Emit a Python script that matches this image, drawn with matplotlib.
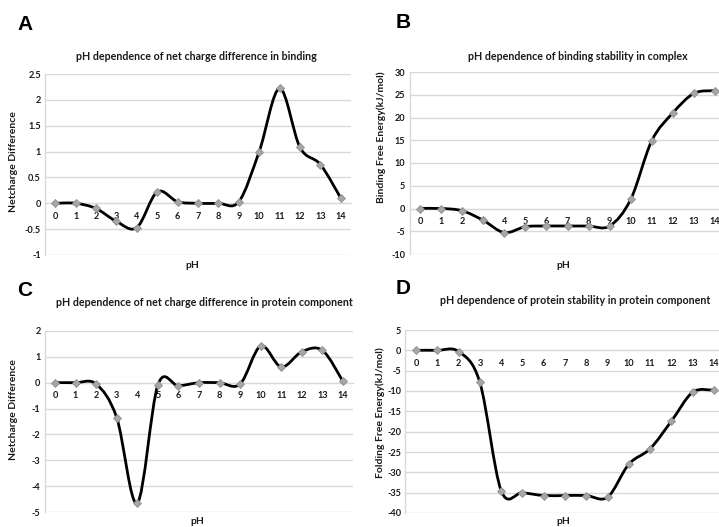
import numpy as np
import matplotlib
matplotlib.use("Agg")
import matplotlib.pyplot as plt
from matplotlib.path import Path
from matplotlib.patches import PathPatch

plt.rcParams['font.family'] = ['Lato', 'DejaVu Sans']

ph = list(range(15))
ph_labels = [str(v) for v in ph]

netcharge_binding = [0, 0, -0.1, -0.35, -0.47, 0.22, 0.03, 0, 0, 0.03, 1.0, 2.22, 1.08, 0.75, 0.1]
binding_energy = [0, 0, -0.5, -2.6, -5.3, -4.0, -3.85, -3.85, -3.85, -3.85, 2.0, 14.9, 21.0, 25.3, 25.9]
netcharge_protein = [0, 0, -0.05, -1.35, -4.65, -0.09, -0.12, 0, 0, -0.05, 1.42, 0.61, 1.2, 1.25, 0.05]
folding_energy = [0, 0, -0.3, -7.9, -34.5, -35.0, -35.7, -35.7, -35.7, -36.1, -28.0, -24.2, -17.4, -10.3, -9.8]

yticks_a = [-1, -0.5, 0, 0.5, 1, 1.5, 2, 2.5]
ylabels_a = ['-1', '-0.5', '0', '0.5', '1', '1.5', '2', '2.5']
yticks_b = [-10, -5, 0, 5, 10, 15, 20, 25, 30]
ylabels_b = [str(v) for v in yticks_b]
yticks_c = [-5, -4, -3, -2, -1, 0, 1, 2]
ylabels_c = [str(v) for v in yticks_c]
yticks_d = [-40, -35, -30, -25, -20, -15, -10, -5, 0, 5]
ylabels_d = [str(v) for v in yticks_d]

titles = ['pH dependence of net charge difference in binding',
          'pH dependence of binding stability in complex',
          'pH dependence of net charge difference in protein component',
          'pH dependence of protein stability in protein component']
ylabels = ['Netcharge Difference', 'Binding Free Energy(kJ/mol)',
           'Netcharge Difference', 'Folding Free Energy(kJ/mol)']
letters = ['A', 'B', 'C', 'D']

W, H = 719, 527
fig = plt.figure(figsize=(W / 100, H / 100), dpi=100)

GRID = '#d9d9d9'
TXT = '#1a1a1a'


def smooth_path(x, y):
    pts = np.column_stack([x, y]).astype(float)
    n = len(pts)
    verts = [pts[0]]
    codes = [Path.MOVETO]
    for i in range(n - 1):
        p0 = pts[max(i - 1, 0)]
        p1 = pts[i]
        p2 = pts[i + 1]
        p3 = pts[min(i + 2, n - 1)]
        c1 = p1 + (p2 - p0) / 6.0
        c2 = p2 - (p3 - p1) / 6.0
        verts += [c1, c2, p2]
        codes += [Path.CURVE4] * 3
    return Path(np.array(verts), codes)


def px_axes(left, right, top, bottom):
    return fig.add_axes([left / W, 1 - bottom / H, (right - left) / W, (bottom - top) / H])


panels = [
    dict(box=(45, 351, 74, 255), y=netcharge_binding, yt=yticks_a, yl=ylabels_a,
         title_xy=(196, 57), letter_xy=(25, 25), ph_xy=(192, 266), ylab_xy=(13, 162)),
    dict(box=(409.5, 725.5, 72, 254), y=binding_energy, yt=yticks_b, yl=ylabels_b,
         title_xy=(578, 57), letter_xy=(403, 23), ph_xy=(563, 266), ylab_xy=(381, 137)),
    dict(box=(44.7, 353.3, 331, 512), y=netcharge_protein, yt=yticks_c, yl=ylabels_c,
         title_xy=(204, 302), letter_xy=(25, 290), ph_xy=(197, 522), ylab_xy=(13, 410)),
    dict(box=(405.4, 724.6, 330, 513), y=folding_energy, yt=yticks_d, yl=ylabels_d,
         title_xy=(575, 301), letter_xy=(403, 288), ph_xy=(563, 522), ylab_xy=(380, 413)),
]

for i, p in enumerate(panels):
    l, r, t, b = p['box']
    ax = px_axes(l, r, t, b)
    for s in ['top', 'right']:
        ax.spines[s].set_visible(False)
    ax.spines['bottom'].set_position(('data', 0))
    ax.spines['bottom'].set_color(GRID)
    ax.spines['left'].set_color(GRID)
    ax.spines['left'].set_linewidth(1.0)
    ax.set_xlim(-0.5, 14.5)
    ax.set_ylim(p['yt'][0], p['yt'][-1])
    ax.set_yticks(p['yt'])
    ax.set_yticklabels(p['yl'])
    ax.set_xticks(ph)
    ax.set_xticklabels(ph_labels)
    ax.tick_params(axis='both', length=0, labelsize=6.6, labelcolor=TXT)
    ax.tick_params(axis='y', pad=3)
    ax.tick_params(axis='x', pad=6)
    for lab in ax.get_xticklabels() + ax.get_yticklabels():
        lab.set_fontweight('bold')
    ax.grid(axis='y', color=GRID, linewidth=1.0)
    ax.set_axisbelow(True)
    ax.patch.set_alpha(0)

    path = smooth_path(ph, p['y'])
    ax.add_patch(PathPatch(path, facecolor='none', edgecolor='black', linewidth=2.0,
                           zorder=3, capstyle='round', joinstyle='round'))
    ax.plot(ph, p['y'], linestyle='none', marker='D', markersize=4.0,
            markerfacecolor='#a6a6a6', markeredgecolor='#8f8f8f', markeredgewidth=0.6,
            zorder=4, clip_on=False)

    tx, ty = p['title_xy']
    fig.text(tx / W, 1 - ty / H, titles[i], ha='center', va='center',
             fontsize=7.7, fontweight='bold', color=TXT)
    lx, ly = p['letter_xy']
    fig.text(lx / W, 1 - ly / H, letters[i], ha='center', va='center',
             fontsize=15, fontweight='bold', family='Liberation Sans', color='black')
    hx, hy = p['ph_xy']
    fig.text(hx / W, 1 - hy / H, 'pH', ha='center', va='center',
             fontsize=7.5, fontweight='bold', color=TXT)
    yx, yy = p['ylab_xy']
    fig.text(yx / W, 1 - yy / H, ylabels[i], ha='center', va='center', rotation=90,
             fontsize=7.5, fontweight='bold', color=TXT)

fig.savefig('out.png', dpi=100)
